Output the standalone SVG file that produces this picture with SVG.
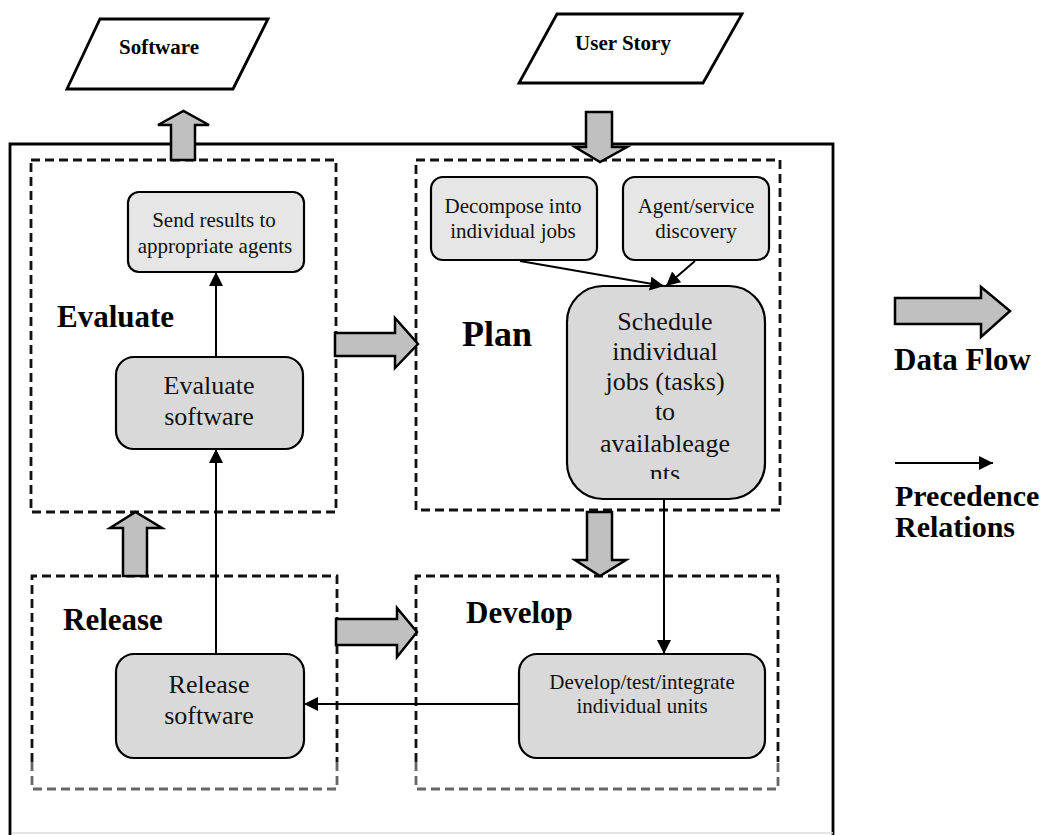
<svg xmlns="http://www.w3.org/2000/svg" width="1053" height="835" viewBox="0 0 1053 835">
<style>
.frame{fill:none;stroke:#000;stroke-width:2.8}
.dash{fill:none;stroke:#111;stroke-width:2.8;stroke-dasharray:9 5}
.dashg{fill:none;stroke:#666;stroke-width:2.8;stroke-dasharray:9 5}
.para{fill:#fff;stroke:#000;stroke-width:2.8}
.node{stroke:#000;stroke-width:2.2}
.blk{fill:#c0c0c0;stroke:#000;stroke-width:2.5;stroke-linejoin:miter}
.prec{fill:none;stroke:#000;stroke-width:2}
.t{font-family:"Liberation Serif","Times New Roman",serif;fill:#111;text-anchor:middle}
.b{font-family:"Liberation Serif","Times New Roman",serif;font-weight:bold;fill:#000}
</style>
<defs>
<marker id="ah" markerUnits="userSpaceOnUse" markerWidth="16" markerHeight="14" refX="14" refY="7" orient="auto">
<path d="M0,0 L14,7 L0,14 Z" fill="#000"/>
</marker>
<clipPath id="schedClip"><rect x="560" y="290" width="210" height="189"/></clipPath>
</defs>
<rect width="1053" height="835" fill="#fff"/>

<g id="frame">
<path class="frame" d="M10,835 V144 H833 V835"/>
<line x1="12" y1="833" x2="833" y2="833" stroke="#ddd" stroke-width="1.5"/>
</g>

<g id="evaluate-phase">
<rect class="dash" x="31" y="160" width="305" height="352"/>
<text class="b" x="57" y="327" font-size="31">Evaluate</text>
</g>
<g id="plan-phase">
<rect class="dash" x="416" y="160" width="364" height="350"/>
<text class="b" x="462" y="346" font-size="36">Plan</text>
</g>
<g id="release-phase">
<path class="dash" d="M32,762 V576 H337 V762"/>
<path class="dashg" d="M32,762 V789 H337 V762"/>
<text class="b" x="63" y="630" font-size="31">Release</text>
</g>
<g id="develop-phase">
<path class="dash" d="M416,762 V576 H778 V762"/>
<path class="dashg" d="M416,762 V789 H778 V762"/>
<text class="b" x="466" y="623" font-size="31">Develop</text>
</g>

<g id="software">
<polygon class="para" points="100,19 268,19 233,89 67,89"/>
<text class="b" x="159" y="54" font-size="21" text-anchor="middle">Software</text>
</g>
<g id="user-story">
<polygon class="para" points="557,14 742,14 703,83 519,83"/>
<text class="b" x="623" y="50" font-size="21" text-anchor="middle">User Story</text>
</g>

<g id="send-results">
<rect class="node" x="128" y="192" width="176" height="80" rx="11" fill="#e6e6e6"/>
<text class="t" x="214" y="227" font-size="21">Send results to</text>
<text class="t" x="215" y="253" font-size="21">appropriate agents</text>
</g>
<g id="evaluate-software">
<rect class="node" x="116" y="357" width="187" height="92" rx="18" fill="#d9d9d9"/>
<text class="t" x="209" y="394" font-size="26">Evaluate</text>
<text class="t" x="209" y="425" font-size="26">software</text>
</g>
<g id="decompose">
<rect class="node" x="431" y="177" width="166" height="83" rx="12" fill="#e6e6e6"/>
<text class="t" x="513" y="213" font-size="21">Decompose into</text>
<text class="t" x="513" y="238" font-size="21">individual jobs</text>
</g>
<g id="agent-discovery">
<rect class="node" x="623" y="177" width="146" height="83" rx="12" fill="#e6e6e6"/>
<text class="t" x="696" y="213" font-size="21">Agent/service</text>
<text class="t" x="696" y="238" font-size="21">discovery</text>
</g>
<g id="schedule">
<rect class="node" x="567" y="286" width="198" height="213" rx="36" fill="#d9d9d9"/>
<g clip-path="url(#schedClip)">
<text class="t" x="665" y="330" font-size="26">Schedule</text>
<text class="t" x="665" y="360" font-size="26">individual</text>
<text class="t" x="665" y="390" font-size="26">jobs (tasks)</text>
<text class="t" x="665" y="420" font-size="26">to</text>
<text class="t" x="665" y="452" font-size="26">availableage</text>
<text class="t" x="665" y="482" font-size="26">nts</text>
</g>
</g>
<g id="release-software">
<rect class="node" x="116" y="654" width="188" height="104" rx="18" fill="#d9d9d9"/>
<text class="t" x="209" y="693" font-size="26">Release</text>
<text class="t" x="209" y="724" font-size="26">software</text>
</g>
<g id="develop-units">
<rect class="node" x="519" y="654" width="246" height="104" rx="18" fill="#d9d9d9"/>
<text class="t" x="642" y="689" font-size="21">Develop/test/integrate</text>
<text class="t" x="642" y="713" font-size="21">individual units</text>
</g>

<g id="connectors">
<polygon class="blk" points="171,160 171,125 158,125 183.5,111 209,125 195,125 195,160"/>
<polygon class="blk" points="586,112 612,112 612,147 627,147 600,162 575,147 586,147"/>
<polygon class="blk" points="335,333 395,333 395,318 418,344 395,368 395,356 335,356"/>
<polygon class="blk" points="336,619 397,619 397,608 417,632 397,657 397,645 336,645"/>
<polygon class="blk" points="123,576 123,528 110,528 135.5,512 162,528 147,528 147,576"/>
<polygon class="blk" points="587,512 612,512 612,560 626,560 600,576 575,560 587,560"/>
<line class="prec" x1="216" y1="357" x2="216" y2="272" marker-end="url(#ah)"/>
<line class="prec" x1="216" y1="654" x2="216" y2="449" marker-end="url(#ah)"/>
<line class="prec" x1="520" y1="261" x2="664" y2="286" marker-end="url(#ah)"/>
<line class="prec" x1="695" y1="261" x2="666" y2="286" marker-end="url(#ah)"/>
<line class="prec" x1="664" y1="499" x2="664" y2="654" marker-end="url(#ah)"/>
<line class="prec" x1="519" y1="704" x2="304" y2="704" stroke-width="3" marker-end="url(#ah)"/>
</g>

<g id="legend">
<polygon class="blk" points="895,298 981,298 981,287 1010,311 981,337 981,324 895,324"/>
<text class="b" x="894" y="370" font-size="31">Data Flow</text>
<line class="prec" x1="895" y1="463" x2="993" y2="463" marker-end="url(#ah)"/>
<text class="b" x="895" y="506" font-size="30">Precedence</text>
<text class="b" x="895" y="537" font-size="30">Relations</text>
</g>
</svg>
